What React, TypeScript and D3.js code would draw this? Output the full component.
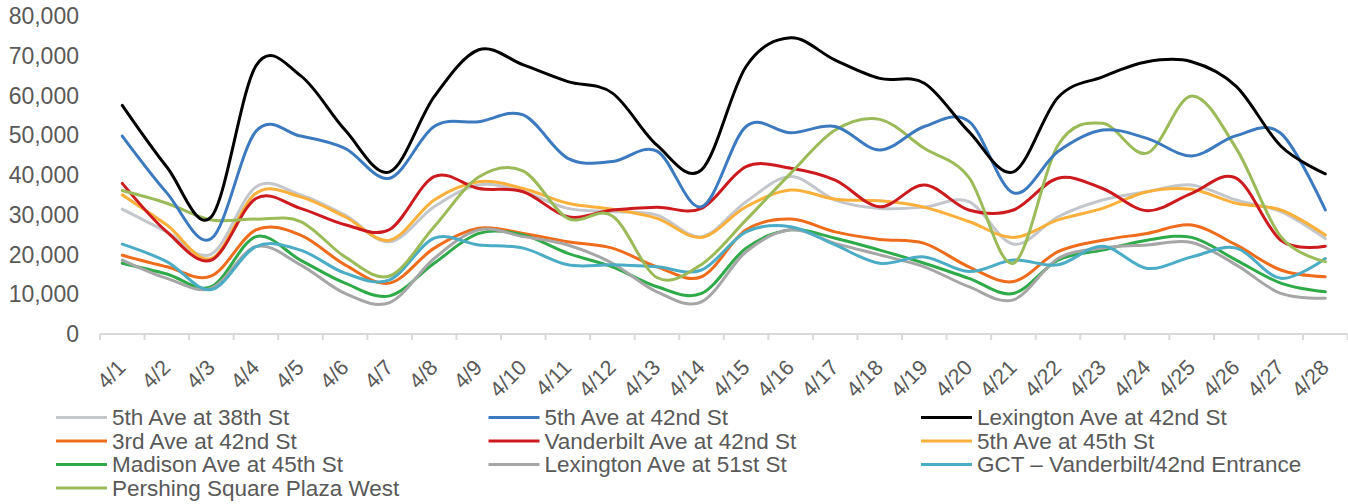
import React from "react";
import * as d3 from "d3";

const categories = ["4/1","4/2","4/3","4/4","4/5","4/6","4/7","4/8","4/9","4/10","4/11","4/12","4/13","4/14","4/15","4/16","4/17","4/18","4/19","4/20","4/21","4/22","4/23","4/24","4/25","4/26","4/27","4/28"];

const yTicks = [0, 10000, 20000, 30000, 40000, 50000, 60000, 70000, 80000];

const fifth38 = [31400,25700,20100,37000,35000,29900,23200,32000,37500,35800,31600,30800,29900,24500,33300,39600,33700,31600,31900,33300,22600,29500,33700,35800,37500,33700,30800,24000];
const fifth42 = [49800,35500,24000,51000,49800,46700,39200,52200,53400,55100,44200,43400,46000,32000,52200,50600,52200,46300,52200,53500,35500,45900,51300,49200,44800,49900,50500,31200];
const lex42 = [57500,42000,29500,67500,65000,51300,40800,59700,71500,67700,63500,60600,47500,41300,67300,74500,68900,64300,63100,50900,40800,59500,64700,68500,68500,62300,47300,40300];
const third42 = [19800,16900,14600,26200,24900,17400,12800,21600,26600,25300,23200,21600,16900,14400,26200,28900,25700,23800,22800,16900,13200,20700,23600,25300,27400,22400,16100,14400];
const vanderbilt42 = [37900,25700,18600,34100,31600,27500,26300,39600,36600,35800,29500,31200,31900,31600,42100,41700,38700,32000,37500,31200,31200,39200,36600,31000,35400,39200,23600,22100];
const fifth45 = [35000,27400,19000,35400,34500,29500,23600,33700,38300,36600,32900,31400,29100,24300,32000,36200,33900,33500,31900,28300,24300,28700,31600,35800,36400,32900,31200,24900];
const madison45 = [17800,15100,11900,24500,18600,12800,9600,17800,25300,24900,20300,16900,11900,10200,21600,26200,24100,21100,17800,14000,10200,18600,21100,23600,24300,18600,12800,10600];
const lex51 = [18600,14000,11500,22000,17400,10200,7900,19000,26200,24500,22400,17800,10600,8100,20700,26200,22800,19900,16900,11900,8600,19000,21600,22400,23000,17400,10200,9000];
const gct = [22600,18200,11200,22000,21100,15300,13600,24100,22400,21600,17400,17400,16900,16100,25700,27000,22400,17800,19400,15700,18600,17400,22100,16500,19400,21600,14000,19000];
const pershing = [36100,32900,28700,28900,28300,19400,14600,27000,39500,41000,29100,29700,14200,17500,28700,40400,51300,54000,46700,39400,17800,47500,53000,45500,59900,46700,24500,18200];

const seriesNames = [
  "5th Ave at 38th St",
  "5th Ave at 42nd St",
  "Lexington Ave at 42nd St",
  "3rd Ave at 42nd St",
  "Vanderbilt Ave at 42nd St",
  "5th Ave at 45th St",
  "Madison Ave at 45th St",
  "Lexington Ave at 51st St",
  "GCT – Vanderbilt/42nd Entrance",
  "Pershing Square Plaza West",
];
const seriesValues = [fifth38, fifth42, lex42, third42, vanderbilt42, fifth45, madison45, lex51, gct, pershing];
const seriesColors = ["#c3c7cc", "#3c7abf", "#000000", "#ee6c1c", "#cc1a1f", "#fbb03b", "#2eaa48", "#a6a6a6", "#4bacc6", "#9bbb59"];

// draw order (later = on top) approximating reference
const drawOrder = [0, 5, 4, 3, 6, 7, 8, 9, 1, 2];

const W = 1348;
const H = 504;
const FONT = "'Liberation Sans', Arial, sans-serif";
const TEXT = "#595959";

export default function App() {
  const x = d3.scaleBand<string>().domain(categories).range([100, 1347.6]).padding(0);
  const y = d3.scaleLinear().domain([0, 80000]).range([334, 16]);
  const cx = (c: string) => (x(c) as number) + x.bandwidth() / 2;

  const line = d3
    .line<number>()
    .x((_, i) => cx(categories[i]))
    .y((v) => y(v))
    .curve(d3.curveCardinal.tension(0));

  const boundaries = d3.range(categories.length + 1).map((i) => 100 + i * x.bandwidth());

  const legendCols = [56, 488.5, 921];
  const legendRows = [417.5, 441, 464.5, 488];

  return (
    <svg
      width={W}
      height={H}
      style={{ position: "absolute", left: 0, top: 0, background: "#fff" }}
      fontFamily={FONT}
    >
      {/* y axis labels */}
      {yTicks.map((t) => (
        <text
          key={t}
          x={79}
          y={y(t)}
          textAnchor="end"
          dominantBaseline="central"
          fontSize={23}
          fill={TEXT}
        >
          {d3.format(",")(t)}
        </text>
      ))}
      {/* x axis */}
      <line x1={100} x2={1347.6} y1={y(0)} y2={y(0)} stroke="#d9d9d9" strokeWidth={2} />
      {boundaries.map((bx, i) => (
        <line key={i} x1={bx} x2={bx} y1={y(0)} y2={y(0) + 6} stroke="#d9d9d9" strokeWidth={2} />
      ))}
      {categories.map((c) => (
        <text
          key={c}
          transform={`translate(${cx(c) - 6},${358}) rotate(-45)`}
          textAnchor="end"
          dy="0.71em"
          fontSize={21.5}
          fill={TEXT}
        >
          {c}
        </text>
      ))}
      {/* lines */}
      {drawOrder.map((si) => (
        <path
          key={si}
          d={line(seriesValues[si]) || ""}
          fill="none"
          stroke={seriesColors[si]}
          strokeWidth={3}
          strokeLinejoin="round"
          strokeLinecap="round"
        />
      ))}
      {/* legend */}
      {seriesNames.map((name, i) => {
        const col = i % 3;
        const row = Math.floor(i / 3);
        const lx = legendCols[col];
        const ly = legendRows[row];
        return (
          <g key={name}>
            <line x1={lx} x2={lx + 51} y1={ly} y2={ly} stroke={seriesColors[i]} strokeWidth={3} />
            <text x={lx + 56} y={ly} dominantBaseline="central" fontSize={22.5} fill={TEXT}>
              {name}
            </text>
          </g>
        );
      })}
    </svg>
  );
}
